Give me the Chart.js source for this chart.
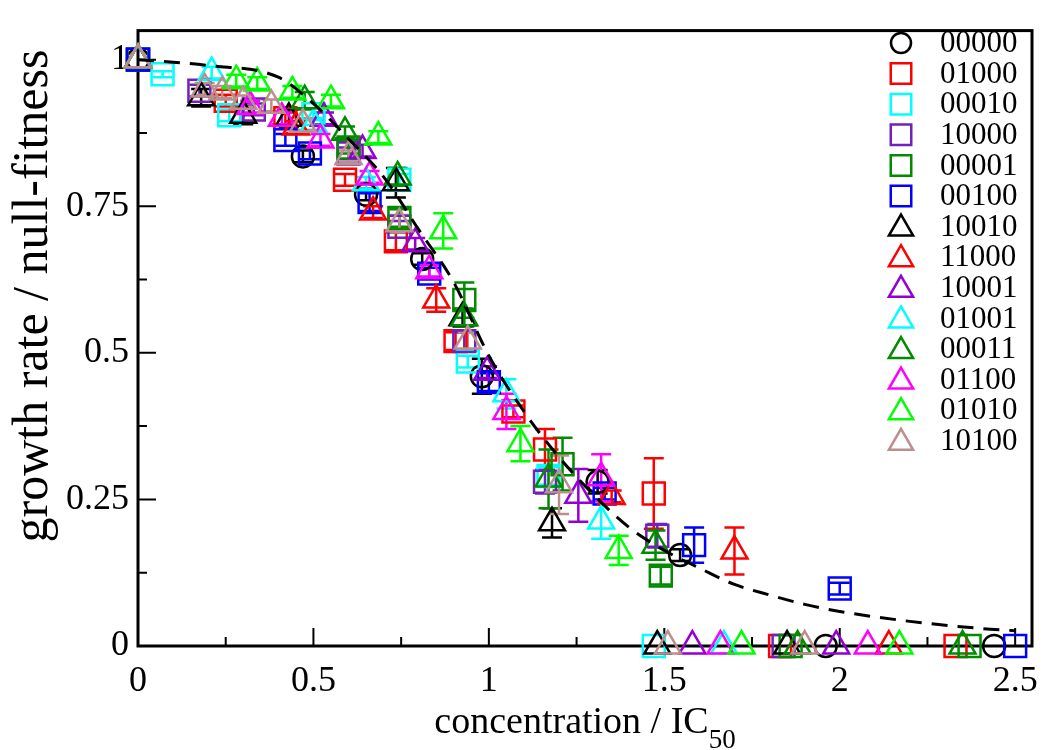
<!DOCTYPE html>
<html>
<head>
<meta charset="utf-8">
<script src="https://cdn.jsdelivr.net/npm/chart.js@4.4.0/dist/chart.umd.min.js"></script>
<style>
  body { margin: 0; background: #fff; }
  #wrap { width: 1052px; height: 750px; }
</style>
</head>
<body>
<div id="wrap"><canvas id="chart" width="1052" height="750"></canvas></div>
<script>
// tick values
const xTicks = [0, 0.5, 1, 1.5, 2, 2.5];
const yTicks = [0, 0.25, 0.5, 0.75, 1];

// series names, colours and symbols (legend order)
const seriesNames = ['00000', '01000', '00010', '10000', '00001', '00100', '10010',
  '11000', '10001', '01001', '00011', '01100', '01010', '10100'];
const seriesColors = ['#000000', '#ff0000', '#00ffff', '#7221bc', '#008b00', '#0000ff', '#000000',
  '#ff0000', '#9400d3', '#00ffff', '#008b00', '#ff00ff', '#00ff00', '#bc8f8f'];
const seriesShapes = ['circle', 'rect', 'rect', 'rect', 'rect', 'rect', 'triangle',
  'triangle', 'triangle', 'triangle', 'triangle', 'triangle', 'triangle', 'triangle'];

// concentration / IC50, growth rate, error
const x_00000 = [0, 0.47, 0.65, 0.81, 0.98, 1.31, 1.545, 1.96, 2.44];
const y_00000 = [1, 0.835, 0.77, 0.66, 0.46, 0.28, 0.155, 0, 0];
const e_00000 = [0, 0.01, 0.01, 0.01, 0.03, 0.02, 0.01, 0, 0];

const x_01000 = [0, 0.25, 0.42, 0.59, 0.735, 0.905, 1.07, 1.16, 1.47, 1.83, 2.33];
const y_01000 = [1, 0.93, 0.9, 0.795, 0.69, 0.52, 0.40, 0.335, 0.26, 0, 0];
const e_01000 = [0, 0.01, 0.01, 0.01, 0.015, 0.015, 0.01, 0.035, 0.06, 0, 0];

const x_00010 = [0, 0.07, 0.26, 0.5, 0.745, 0.94, 1.17, 1.47];
const y_00010 = [1, 0.975, 0.905, 0.907, 0.795, 0.485, 0.29, 0];
const e_00010 = [0, 0.005, 0.01, 0.01, 0.01, 0.01, 0.015, 0];

const x_10000 = [0, 0.175, 0.33, 0.6, 0.745, 0.93, 1.16, 1.48, 1.84];
const y_10000 = [1, 0.947, 0.915, 0.84, 0.715, 0.52, 0.28, 0.188, 0];
const e_10000 = [0, 0.01, 0.01, 0.01, 0.01, 0.015, 0.02, 0.02, 0];

const x_00001 = [0, 0.6, 0.745, 0.93, 1.21, 1.49, 1.86, 2.37];
const y_00001 = [1, 0.85, 0.73, 0.59, 0.31, 0.12, 0, 0];
const e_00001 = [0, 0.01, 0.015, 0.03, 0.045, 0.015, 0, 0];

const x_00100 = [0, 0.42, 0.49, 0.66, 0.83, 1.0, 1.33, 1.585, 2.0, 2.5];
const y_00100 = [1, 0.863, 0.84, 0.757, 0.635, 0.45, 0.26, 0.172, 0.098, 0];
const e_00100 = [0, 0.01, 0.01, 0.015, 0.01, 0.015, 0.01, 0.03, 0.01, 0];

const x_10010 = [0, 0.18, 0.3, 0.43, 0.735, 0.925, 1.18, 1.48, 1.85];
const y_10010 = [1, 0.935, 0.905, 0.9, 0.79, 0.56, 0.21, 0, 0];
const e_10010 = [0, 0.015, 0.015, 0.015, 0.025, 0.015, 0.025, 0, 0];

const x_11000 = [0, 0.45, 0.67, 0.85, 1.35, 1.7, 2.14];
const y_11000 = [1, 0.885, 0.74, 0.59, 0.255, 0.162, 0];
const e_11000 = [0, 0.01, 0.01, 0.02, 0.01, 0.04, 0];

const x_10001 = [0, 0.53, 0.64, 0.79, 0.995, 1.255, 1.58, 1.99];
const y_10001 = [1, 0.9, 0.845, 0.686, 0.467, 0.257, 0, 0];
const e_10001 = [0, 0.01, 0.01, 0.01, 0.01, 0.045, 0, 0];

const x_01001 = [0, 0.21, 0.5, 0.65, 1.05, 1.32, 1.67];
const y_01001 = [1, 0.978, 0.89, 0.79, 0.43, 0.213, 0];
const e_01001 = [0, 0.01, 0.01, 0.01, 0.025, 0.03, 0];

const x_00011 = [0, 0.475, 0.59, 0.74, 0.93, 1.17, 1.475, 1.88, 2.35];
const y_00011 = [1, 0.93, 0.876, 0.8, 0.56, 0.285, 0.172, 0, 0];
const e_00011 = [0, 0.015, 0.01, 0.015, 0.015, 0.05, 0.025, 0, 0];

const x_01100 = [0, 0.32, 0.41, 0.52, 0.66, 0.83, 1.05, 1.32, 1.66, 2.08];
const y_01100 = [1, 0.92, 0.9, 0.863, 0.8, 0.64, 0.4, 0.287, 0, 0];
const e_01100 = [0, 0.01, 0.01, 0.01, 0.01, 0.01, 0.03, 0.04, 0, 0];

const x_01010 = [0, 0.28, 0.34, 0.44, 0.55, 0.685, 0.87, 1.09, 1.37, 1.72, 2.17];
const y_01010 = [1, 0.964, 0.96, 0.945, 0.93, 0.868, 0.708, 0.345, 0.163, 0, 0];
const e_01010 = [0, 0.01, 0.01, 0.01, 0.01, 0.01, 0.03, 0.03, 0.025, 0, 0];

const x_10100 = [0, 0.19, 0.24, 0.3, 0.38, 0.47, 0.6, 0.745, 0.94, 1.2, 1.51, 1.9];
const y_10100 = [1, 0.95, 0.945, 0.929, 0.922, 0.89, 0.835, 0.72, 0.52, 0.275, 0, 0];
const e_10100 = [0, 0.01, 0.01, 0.01, 0.01, 0.01, 0.01, 0.015, 0.015, 0.05, 0, 0];

// dashed fit curve
const fitX = [0, 0.2, 0.4, 0.5, 0.6, 0.7, 0.8, 0.9, 1.0, 1.1, 1.2, 1.3, 1.4, 1.5, 1.6, 1.7, 1.8, 1.9, 2.0, 2.2, 2.4, 2.5];
const fitY = [1, 0.99, 0.97, 0.925, 0.865, 0.8, 0.71, 0.62, 0.495, 0.4, 0.322, 0.257, 0.202, 0.163, 0.133, 0.105, 0.087, 0.071, 0.059, 0.042, 0.03, 0.026];

const seriesX = [x_00000, x_01000, x_00010, x_10000, x_00001, x_00100, x_10010, x_11000, x_10001, x_01001, x_00011, x_01100, x_01010, x_10100];
const seriesY = [y_00000, y_01000, y_00010, y_10000, y_00001, y_00100, y_10010, y_11000, y_10001, y_01001, y_00011, y_01100, y_01010, y_10100];
const seriesE = [e_00000, e_01000, e_00010, e_10000, e_00001, e_00100, e_10010, e_11000, e_10001, e_01001, e_00011, e_01100, e_01010, e_10100];

const FONT = "'Liberation Serif', 'Times New Roman', serif";
const markerRadius = { circle: 11, rect: 15.5, triangle: 15 };

const datasets = seriesNames.map((name, i) => ({
  type: 'scatter',
  label: name,
  data: seriesX[i].map((v, j) => ({ x: v, y: seriesY[i][j] })),
  errors: seriesE[i],
  borderColor: seriesColors[i],
  backgroundColor: 'rgba(0,0,0,0)',
  pointStyle: seriesShapes[i],
  pointRadius: markerRadius[seriesShapes[i]],
  pointHoverRadius: markerRadius[seriesShapes[i]],
  pointBorderWidth: 2.5,
  order: seriesNames.length - i,
  clip: false
}));

datasets.push({
  type: 'line',
  label: 'fit',
  data: fitX.map((v, j) => ({ x: v, y: fitY[j] })),
  borderColor: '#000',
  borderWidth: 3,
  borderDash: [16, 10],
  pointRadius: 0,
  fill: false,
  cubicInterpolationMode: 'monotone',
  order: -1
});

function drawMarker(ctx, shape, x, y, r) {
  ctx.beginPath();
  if (shape === 'circle') {
    ctx.arc(x, y, r, 0, Math.PI * 2);
  } else if (shape === 'rect') {
    const s = r * Math.SQRT1_2;
    ctx.rect(x - s, y - s, 2 * s, 2 * s);
  } else {
    for (let k = 0; k < 3; k++) {
      const a = k * 2 * Math.PI / 3;
      const px = x + Math.sin(a) * r, py = y - Math.cos(a) * r;
      if (k === 0) ctx.moveTo(px, py); else ctx.lineTo(px, py);
    }
    ctx.closePath();
  }
  ctx.stroke();
}

const decor = {
  id: 'decor',
  beforeDatasetsDraw(chart) {
    const { ctx, chartArea: a, scales: { x, y } } = chart;
    ctx.save();
    // error bars
    chart.data.datasets.forEach(ds => {
      if (!ds.errors) return;
      ctx.strokeStyle = ds.borderColor;
      ctx.lineWidth = 2.5;
      ds.data.forEach((p, j) => {
        const e = ds.errors[j];
        if (!e) return;
        const px = x.getPixelForValue(p.x);
        const y1 = y.getPixelForValue(p.y - e), y2 = y.getPixelForValue(p.y + e);
        ctx.beginPath();
        ctx.moveTo(px, y1); ctx.lineTo(px, y2);
        ctx.moveTo(px - 10, y1); ctx.lineTo(px + 10, y1);
        ctx.moveTo(px - 10, y2); ctx.lineTo(px + 10, y2);
        ctx.stroke();
      });
    });
    // frame
    ctx.strokeStyle = '#000';
    ctx.lineWidth = 3;
    ctx.strokeRect(a.left, a.top, a.right - a.left, a.bottom - a.top);
    // inward ticks
    ctx.lineWidth = 2;
    ctx.beginPath();
    xTicks.forEach(v => {
      const px = x.getPixelForValue(v);
      ctx.moveTo(px, a.bottom); ctx.lineTo(px, a.bottom - 18);
      const m = x.getPixelForValue(v + (xTicks[1] - xTicks[0]) / 2);
      if (m < a.right - 2) { ctx.moveTo(m, a.bottom); ctx.lineTo(m, a.bottom - 9); }
    });
    yTicks.forEach(v => {
      const py = y.getPixelForValue(v);
      ctx.moveTo(a.left, py); ctx.lineTo(a.left + 18, py);
      const m = y.getPixelForValue(v + (yTicks[1] - yTicks[0]) / 2);
      if (m > a.top + 2) { ctx.moveTo(a.left, m); ctx.lineTo(a.left + 9, m); }
    });
    ctx.stroke();
    ctx.restore();
  },
  afterDraw(chart) {
    const { ctx, chartArea: a } = chart;
    ctx.save();
    ctx.fillStyle = '#000';
    ctx.textBaseline = 'alphabetic';
    // x title with subscript
    const main = 'concentration / IC';
    ctx.font = '27px ' + FONT;
    const subW = ctx.measureText('50').width;
    ctx.font = '38px ' + FONT;
    const mainW = ctx.measureText(main).width;
    const startX = (a.left + a.right) / 2 - (mainW + subW) / 2;
    ctx.textAlign = 'left';
    ctx.fillText(main, startX, 733);
    ctx.font = '27px ' + FONT;
    ctx.fillText('50', startX + mainW, 748);
    // y title
    ctx.font = '50px ' + FONT;
    ctx.translate(47, 296);
    ctx.rotate(-Math.PI / 2);
    ctx.textAlign = 'center';
    ctx.fillText('growth rate / null-fitness', 0, 0);
    ctx.restore();

    // legend
    ctx.save();
    ctx.font = '31px ' + FONT;
    ctx.textBaseline = 'middle';
    ctx.textAlign = 'left';
    ctx.lineWidth = 2.5;
    seriesNames.forEach((name, i) => {
      const cy = 43 + i * 30.6;
      ctx.strokeStyle = seriesColors[i];
      const shape = seriesShapes[i];
      drawMarker(ctx, shape, 901, shape === 'triangle' ? cy + 2 : cy, markerRadius[shape] - 1);
      ctx.fillStyle = '#000';
      ctx.fillText(name, 940, cy + 1);
    });
    ctx.restore();
  }
};

new Chart(document.getElementById('chart'), {
  data: { datasets },
  options: {
    responsive: false,
    animation: false,
    events: [],
    layout: { padding: { left: 0, top: 10, right: 7, bottom: 0 } },
    plugins: { legend: { display: false }, tooltip: { enabled: false } },
    scales: {
      x: {
        type: 'linear',
        min: 0,
        max: 2.548,
        grid: { display: false, drawTicks: false },
        border: { display: false },
        afterBuildTicks: s => { s.ticks = xTicks.map(v => ({ value: v })); },
        afterFit: s => { s.height = 104; },
        ticks: { color: '#000', padding: 14, maxRotation: 0, autoSkip: false,
          font: { family: FONT, size: 36 }, callback: v => String(v) }
      },
      y: {
        type: 'linear',
        min: 0,
        max: 1.0495,
        grid: { display: false, drawTicks: false },
        border: { display: false },
        afterBuildTicks: s => { s.ticks = yTicks.map(v => ({ value: v })); },
        afterFit: s => { s.width = 138; },
        ticks: { color: '#000', padding: 9, autoSkip: false,
          font: { family: FONT, size: 36 }, callback: v => String(v) }
      }
    }
  },
  plugins: [decor]
});
</script>
</body>
</html>
